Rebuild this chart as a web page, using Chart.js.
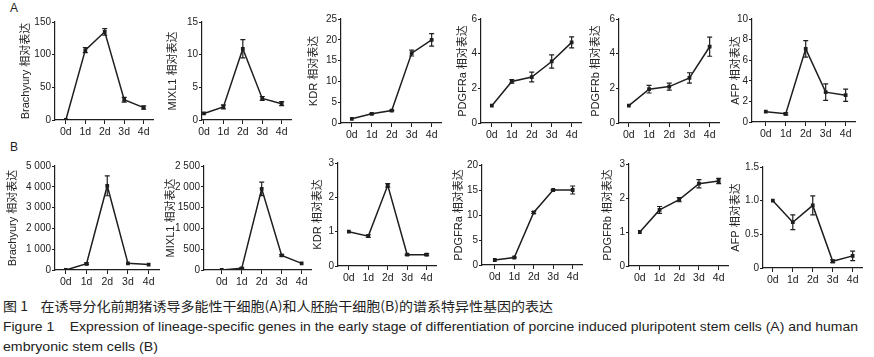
<!DOCTYPE html>
<html>
<head>
<meta charset="utf-8">
<script src="https://cdn.jsdelivr.net/npm/chart.js@4.4.1/dist/chart.umd.min.js"></script>
<style>
  body { margin: 0; background: #fff; width: 874px; height: 357px; overflow: hidden; position: relative; font-family: "Liberation Sans", Arial, sans-serif; color: #222; }
  canvas { position: absolute; }
  .lbl { position: absolute; font-size: 12px; }
  .cap { position: absolute; left: 3px; white-space: nowrap; transform-origin: 0 0; font-size: 13px; color: #222; }
</style>
</head>
<body>
<div class="lbl" style="left:10px; top:1px;">A</div>
<div class="lbl" style="left:10px; top:140px;">B</div>
<div class="cap" data-w="550" style="top:296px; font-family:'Noto Sans CJK SC', sans-serif;">图 1&nbsp;&nbsp;&nbsp;&nbsp;在诱导分化前期猪诱导多能性干细胞(A)和人胚胎干细胞(B)的谱系特异性基因的表达</div>
<div class="cap" data-w="855" style="top:319px;">Figure 1&nbsp;&nbsp;&nbsp;&nbsp;Expression of lineage-specific genes in the early stage of differentiation of porcine induced pluripotent stem cells (A) and human</div>
<div class="cap" data-w="155" style="top:339px;">embryonic stem cells (B)</div>

<script>
const days = ['0d', '1d', '2d', '3d', '4d'];

// A: porcine iPSC
const brachyuryA = [0, 107, 135, 31, 19];
const brachyuryAErr = [0, 4, 5, 3.5, 2.5];
const mixl1A = [1, 2, 10.9, 3.3, 2.5];
const mixl1AErr = [0, 0.3, 1.4, 0.3, 0.3];
const kdrA = [1, 2.2, 3, 16.8, 20];
const kdrAErr = [0, 0.1, 0.1, 0.7, 1.5];
const pdgfraA = [1, 2.4, 2.65, 3.55, 4.65];
const pdgfraAErr = [0, 0.1, 0.28, 0.38, 0.32];
const pdgfrbA = [1, 1.95, 2.1, 2.6, 4.4];
const pdgfrbAErr = [0, 0.22, 0.2, 0.3, 0.55];
const afpA = [1, 0.8, 7.1, 2.9, 2.6];
const afpAErr = [0, 0.1, 0.8, 0.8, 0.6];

// B: human ESC
const brachyuryB = [0, 300, 4050, 320, 260];
const brachyuryBErr = [0, 40, 480, 0, 0];
const mixl1B = [0, 40, 1950, 350, 160];
const mixl1BErr = [0, 15, 160, 20, 0];
const kdrB = [1, 0.87, 2.35, 0.33, 0.33];
const kdrBErr = [0, 0.04, 0.05, 0.02, 0.03];
const pdgfraB = [1, 1.5, 10.5, 15, 15];
const pdgfraBErr = [0, 0.1, 0.2, 0.1, 0.8];
const pdgfrbB = [1, 1.65, 1.95, 2.42, 2.5];
const pdgfrbBErr = [0, 0.1, 0.06, 0.12, 0.08];
const afpB = [1, 0.68, 0.93, 0.1, 0.18];
const afpBErr = [0, 0.11, 0.14, 0.02, 0.07];

// y tick values and labels
const ticks150 = [0, 50, 100, 150];
const ticks15 = [0, 5, 10, 15];
const ticks25 = [0, 5, 10, 15, 20, 25];
const ticks6 = [0, 2, 4, 6];
const ticks10 = [0, 2, 4, 6, 8, 10];
const ticks5000 = [0, 1000, 2000, 3000, 4000, 5000];
const labels5000 = ['0', '1 000', '2 000', '3 000', '4 000', '5 000'];
const ticks2500 = [0, 500, 1000, 1500, 2000, 2500];
const labels2500 = ['0', '500', '1 000', '1500', '2 000', '2 500'];
const ticks3 = [0, 1, 2, 3];
const ticks20 = [0, 5, 10, 15, 20];
const ticks15b = [0, 0.5, 1, 1.5];
const labels15b = ['0', '0.5', '1.0', '1.5'];

// panel placement: ax = y-axis x, top/zero = y pixels of max/0, first/last = x of 0d/4d, yw = y-axis box width
const panels = [
  { name: 'Brachyury', v: brachyuryA, e: brachyuryAErr, t: ticks150, ax: 55, top: 22, zero: 120, first: 66, last: 145, yw: 36 },
  { name: 'MIXL1', v: mixl1A, e: mixl1AErr, t: ticks15, ax: 202, top: 22, zero: 120, first: 204, last: 283, yw: 36 },
  { name: 'KDR', v: kdrA, e: kdrAErr, t: ticks25, ax: 341, top: 19, zero: 123, first: 352, last: 433, yw: 34 },
  { name: 'PDGFRa', v: pdgfraA, e: pdgfraAErr, t: ticks6, ax: 481, top: 19, zero: 123, first: 492, last: 573, yw: 25 },
  { name: 'PDGFRb', v: pdgfrbA, e: pdgfrbAErr, t: ticks6, ax: 619, top: 19, zero: 123, first: 629, last: 711, yw: 30 },
  { name: 'AFP', v: afpA, e: afpAErr, t: ticks10, ax: 752, top: 19, zero: 122, first: 766, last: 847, yw: 23 },
  { name: 'Brachyury', v: brachyuryB, e: brachyuryBErr, t: ticks5000, l: labels5000, ax: 55, top: 166, zero: 270, first: 66, last: 150, yw: 49 },
  { name: 'MIXL1', v: mixl1B, e: mixl1BErr, t: ticks2500, l: labels2500, ax: 204, top: 166, zero: 270, first: 222, last: 303, yw: 40 },
  { name: 'KDR', v: kdrB, e: kdrBErr, t: ticks3, ax: 338, top: 163, zero: 266, first: 349, last: 428, yw: 27 },
  { name: 'PDGFRa', v: pdgfraB, e: pdgfraBErr, t: ticks20, ax: 482, top: 165, zero: 265, first: 495, last: 574, yw: 30 },
  { name: 'PDGFRb', v: pdgfrbB, e: pdgfrbBErr, t: ticks3, ax: 629, top: 164, zero: 266, first: 640, last: 720, yw: 28 },
  { name: 'AFP', v: afpB, e: afpBErr, t: ticks15b, l: labels15b, ax: 763, top: 167, zero: 268, first: 773, last: 854, yw: 34 }
];

const ink = '#1e1e1e';
const PAD_TOP = 8, XH = 22, PAD_R = 4;
const missing = [];

panels.forEach(p => {
  const spacing = (p.last - p.first) / 4;
  const w = Math.round(p.yw + (p.last + spacing * 0.5 - p.ax) + PAD_R);
  const h = PAD_TOP + (p.zero - p.top) + XH;
  const areaW = w - p.yw - PAD_R;
  const xmin = -(p.first - p.ax) / spacing;
  const xmax = xmin + areaW / spacing;

  const canvas = document.createElement('canvas');
  canvas.style.left = (p.ax - p.yw) + 'px';
  canvas.style.top = (p.top - PAD_TOP) + 'px';
  canvas.width = w;
  canvas.height = h;
  document.body.appendChild(canvas);

  // mean line first, then one small two-point dataset per whisker (caps = 'line' point style)
  const datasets = [{
    data: p.v.map((v, i) => ({ x: i, y: v })),
    borderColor: ink,
    backgroundColor: ink,
    borderWidth: 1.5,
    pointStyle: 'rect',
    pointRadius: 1.6,
    tension: 0
  }];
  p.e.forEach((e, i) => {
    if (!e) return;
    datasets.push({
      data: [{ x: i, y: p.v[i] - e }, { x: i, y: p.v[i] + e }],
      borderColor: ink,
      borderWidth: 1.2,
      pointStyle: 'line',
      pointRadius: 2.5,
      pointBorderWidth: 1.2,
      pointBorderColor: ink,
      tension: 0
    });
  });

  const chart = new Chart(canvas.getContext('2d'), {
    type: 'line',
    data: { datasets },
    options: {
      responsive: false,
      animation: false,
      devicePixelRatio: 1,
      layout: { padding: { top: PAD_TOP, right: PAD_R, left: 0, bottom: 0 } },
      plugins: { legend: { display: false }, tooltip: { enabled: false } },
      scales: {
        x: {
          type: 'linear',
          min: xmin,
          max: xmax,
          afterBuildTicks: s => { s.ticks = days.map((d, i) => ({ value: i })); },
          afterFit: s => { s.height = XH; },
          grid: { drawOnChartArea: false, color: ink, tickLength: 4 },
          border: { color: ink, width: 1.2 },
          ticks: {
            color: '#222',
            font: { family: 'Liberation Sans', size: 10.5 },
            padding: 2,
            maxRotation: 0,
            autoSkip: false,
            callback: v => days[v]
          }
        },
        y: {
          min: 0,
          max: p.t[p.t.length - 1],
          afterBuildTicks: s => { s.ticks = p.t.map(v => ({ value: v })); },
          afterFit: s => { s.width = p.yw; },
          grid: { drawOnChartArea: false, color: ink, tickLength: 3 },
          border: { color: ink, width: 1.2 },
          title: {
            display: true,
            text: p.name + ' 相对表达',
            color: '#222',
            font: { family: 'Liberation Sans, Noto Sans CJK SC', size: 11 },
            padding: 0
          },
          ticks: {
            color: '#222',
            font: { family: 'Liberation Sans', size: 10 },
            padding: 1,
            autoSkip: false,
            callback: v => p.l ? p.l[p.t.indexOf(v)] : String(v)
          }
        }
      }
    }
  });

  // check that the top y label really reached the canvas
  const y = chart.scales.y;
  const items = y.getLabelItems(chart.chartArea);
  const top = items[items.length - 1];
  const [tx, ty] = top.options.translation;
  const img = chart.ctx.getImageData(Math.max(0, Math.round(tx) - 14), Math.max(0, Math.round(ty) - 5), 14, 10).data;
  let ink2 = 0;
  for (let k = 3; k < img.length; k += 4) ink2 += img[k];
  if (ink2 === 0) missing.push(p.name + ':' + top.label + '@' + tx.toFixed(1) + ',' + ty.toFixed(1) + ' n=' + items.length + ' yticks=' + y.ticks.length + ' area=' + JSON.stringify(chart.chartArea));
});

// squeeze caption lines to the widths in the figure
document.querySelectorAll('.cap').forEach(el => {
  const target = +el.dataset.w;
  const actual = el.getBoundingClientRect().width;
  el.style.transform = 'scaleX(' + (target / actual) + ')';
});

if (missing.length) setTimeout(() => { throw new Error('top labels blank: ' + missing.join(' | ')); }, 0);
</script>
</body>
</html>
